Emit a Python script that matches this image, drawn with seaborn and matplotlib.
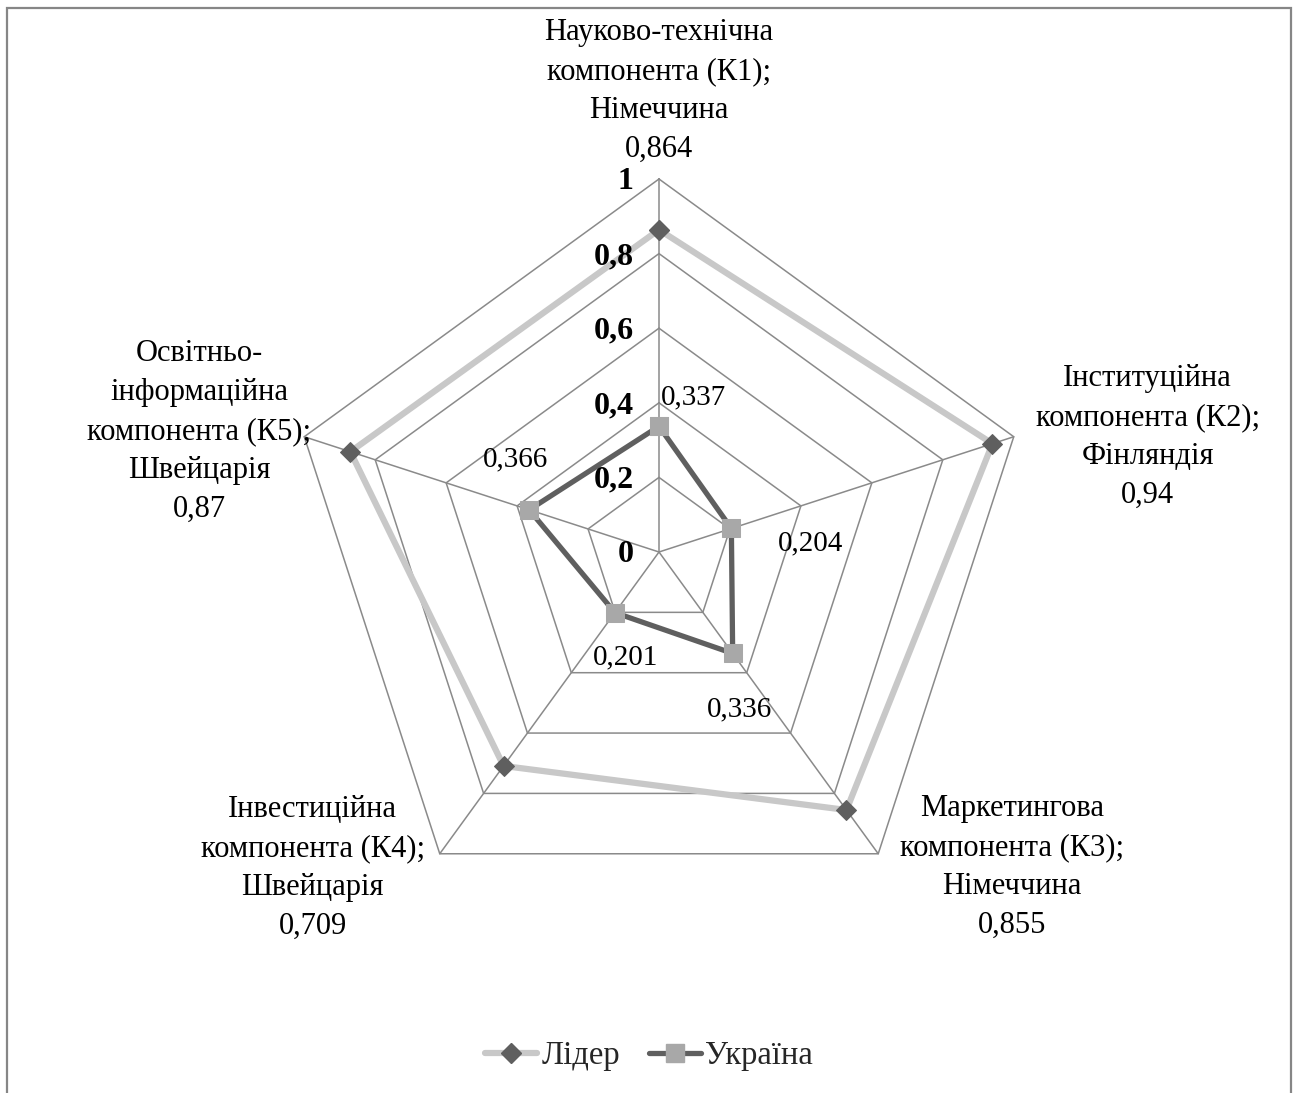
import numpy as np
import pandas as pd
import matplotlib.pyplot as plt
import seaborn as sns
from matplotlib.lines import Line2D
from matplotlib.patches import Rectangle

# chart data
components = ['Науково-технічна\nкомпонента (К1);\nНімеччина',
              'Інституційна\nкомпонента (К2);\nФінляндія',
              'Маркетингова\nкомпонента (К3);\nНімеччина',
              'Інвестиційна\nкомпонента (К4);\nШвейцарія',
              'Освітньо-\nінформаційна\nкомпонента (К5);\nШвейцарія']
leader = [0.864, 0.94, 0.855, 0.709, 0.87]
ukraine = [0.337, 0.204, 0.336, 0.201, 0.366]
ticks = [0, 0.2, 0.4, 0.6, 0.8, 1]
tick_labels = ['0', '0,2', '0,4', '0,6', '0,8', '1']
series_names = ['Лідер', 'Україна']


def fmt(v):
    return f'{v:g}'.replace('.', ',')


sns.set_theme(style='white')
plt.rcParams['font.family'] = ['Liberation Serif', 'DejaVu Serif']

W, H, DPI = 1298, 1093, 100
cx, cy, R = 659, 552, 373  # centre and unit radius in pixels

fig = plt.figure(figsize=(W / DPI, H / DPI), dpi=DPI)
ax = fig.add_axes([0, 0, 1, 1])
ax.set_xlim(-cx / R, (W - cx) / R)
ax.set_ylim(-(H - cy) / R, cy / R)
ax.axis('off')

n = len(components)
ang = np.deg2rad(90 - 72 * np.arange(n))
grid_c = '#8a8a8a'

# pentagon grid + spokes
for t in ticks[1:]:
    ax.plot(np.append(t * np.cos(ang), t * np.cos(ang[0])),
            np.append(t * np.sin(ang), t * np.sin(ang[0])),
            color=grid_c, lw=1.1, zorder=1)
for a in ang:
    ax.plot([0, np.cos(a)], [0, np.sin(a)], color=grid_c, lw=1.1, zorder=1)

# radial tick labels (drawn above the series lines)
for t, lab in zip(ticks, tick_labels):
    ax.text(-0.068, t - 0.008, lab, ha='right', va='center',
            fontsize=23, fontweight='bold', color='black', zorder=6)


def polygon(vals):
    v = np.append(vals, vals[0])
    a = np.append(ang, ang[0])
    return pd.DataFrame({'x': v * np.cos(a), 'y': v * np.sin(a)})


lead_df = polygon(np.array(leader))
ukr_df = polygon(np.array(ukraine))

sns.lineplot(data=lead_df, x='x', y='y', sort=False, estimator=None, ax=ax,
             color='#c8c8c8', lw=4.5, marker='D', markersize=10,
             markerfacecolor='#5f5f5f', markeredgecolor='#5f5f5f', zorder=3)
sns.lineplot(data=ukr_df, x='x', y='y', sort=False, estimator=None, ax=ax,
             color='#5f5f5f', lw=3.8, marker='s', markersize=13,
             markerfacecolor='#a8a8a8', markeredgecolor='#a8a8a8', zorder=4)

# category labels with leader value
cat_off = [(0, 88), (134, 0), (134, -13), (-127, -14), (-105, 5)]
for i, name in enumerate(components):
    ax.annotate(f'{name}\n{fmt(leader[i])}', xy=(np.cos(ang[i]), np.sin(ang[i])),
                xytext=cat_off[i], textcoords='offset pixels',
                ha='center', va='center', fontsize=22, linespacing=1.45,
                color='black')

# Ukraine data labels
val_off = [(35, 29), (79, -15), (7, -56), (11, -45), (-14, 50)]
for i, v in enumerate(ukraine):
    ax.annotate(fmt(v), xy=(v * np.cos(ang[i]), v * np.sin(ang[i])),
                xytext=val_off[i], textcoords='offset pixels',
                ha='center', va='center', fontsize=21, color='black', zorder=6)

handles = [Line2D([], [], color='#c8c8c8', lw=4.5, marker='D', markersize=10,
                  markerfacecolor='#5f5f5f', markeredgecolor='#5f5f5f'),
           Line2D([], [], color='#5f5f5f', lw=3.8, marker='s', markersize=13,
                  markerfacecolor='#a8a8a8', markeredgecolor='#a8a8a8')]
fig.legend(handles, series_names, loc='center', bbox_to_anchor=(0.5, 0.034),
           ncol=2, frameon=False, fontsize=23.5, handlelength=1.6,
           handletextpad=0.12, columnspacing=0.9)

fig.patches.append(Rectangle((7 / W, -0.01), (1291 - 7) / W, 1 - 8 / H + 0.01,
                             transform=fig.transFigure, fill=False,
                             edgecolor='#868686', lw=1.6))

fig.savefig('out.png', dpi=DPI)
